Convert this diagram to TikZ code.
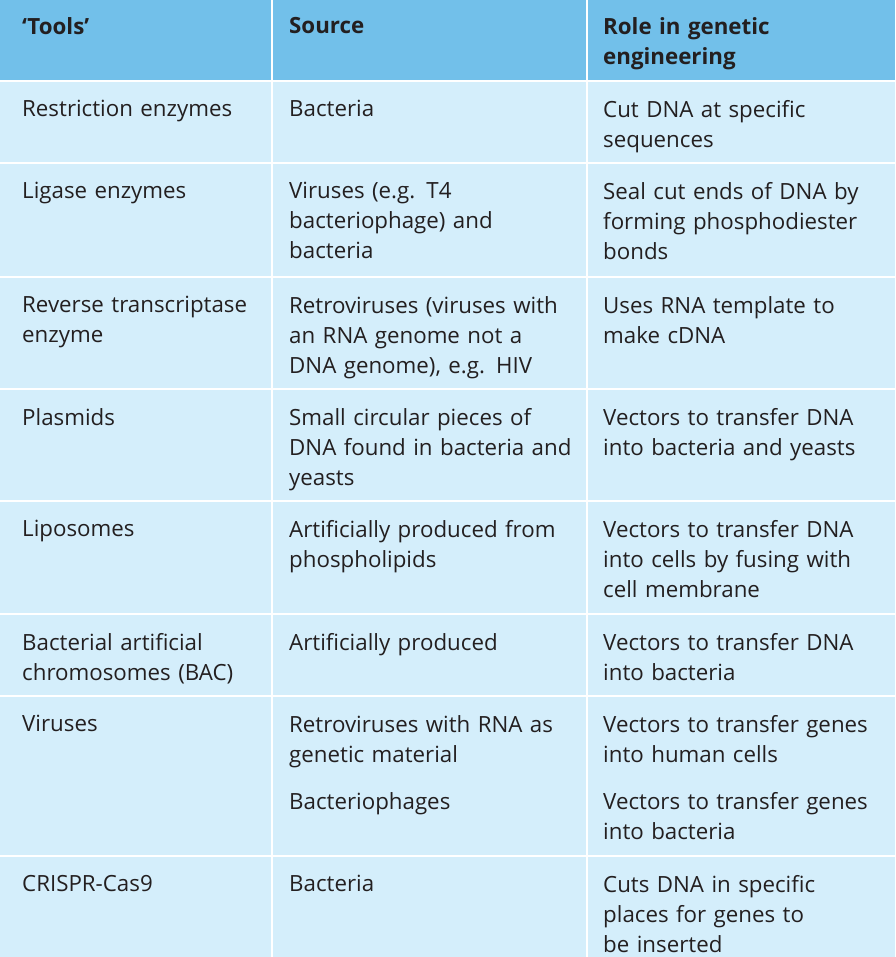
\documentclass[tikz,border=0pt]{standalone}
\usepackage{fontspec}
\setmainfont{Open Sans}
\definecolor{hdr}{HTML}{72C0EA}
\definecolor{bdy}{HTML}{D4EEFB}
\definecolor{txt}{HTML}{231F20}
\begin{document}
\begin{tikzpicture}[x=1pt,y=-1pt,
 cell/.style={anchor=north west,inner sep=0pt,align=left,text=txt,font=\fontsize{22.3}{30}\selectfont},
 hcell/.style={cell,font=\fontsize{22.3}{30}\selectfont\bfseries}]
\useasboundingbox (0,0) rectangle (895,957);
\fill[bdy] (0,0) rectangle (895,957);
\fill[hdr] (0,0) rectangle (895,81);
\foreach \y in {81,163,277,389,501,614,696,856} \draw[white,line width=1.5pt] (0,\y) -- (895,\y);
\foreach \x in {272,587} \draw[white,line width=1.5pt] (\x,0) -- (\x,957);
% header
\node[hcell,text width=250pt] (h1) at (22,17) {‘Tools’};
\node[hcell,text width=290pt] (h2) at (289,17) {Source};
\node[hcell,text width=290pt] (h3) at (603,17) {Role in genetic\\engineering};
% rows
\newcommand\rowc[5]{%
 \node[cell,text width=250pt] (a#1) at (22,#2+19) {#3};
 \node[cell,text width=300pt] (b#1) at (289,#2+19) {#4};
 \node[cell,text width=300pt] (c#1) at (603,#2+19) {#5};}
\rowc{1}{81}{Restriction enzymes}{Bacteria}{Cut DNA at specific\\sequences}
\rowc{2}{163}{Ligase enzymes}{Viruses (e.g. T4\\bacteriophage) and\\bacteria}{Seal cut ends of DNA by\\forming phosphodiester\\bonds}
\rowc{3}{277}{Reverse transcriptase\\enzyme}{Retroviruses (viruses with\\an RNA genome not a\\DNA genome), e.g. HIV}{Uses RNA template to\\make cDNA}
\rowc{4}{389}{Plasmids}{Small circular pieces of\\DNA found in bacteria and\\yeasts}{Vectors to transfer DNA\\into bacteria and yeasts}
\rowc{5}{501}{Liposomes}{Artificially produced from\\phospholipids}{Vectors to transfer DNA\\into cells by fusing with\\cell membrane}
\rowc{6}{614}{Bacterial artificial\\chromosomes (BAC)}{Artificially produced}{Vectors to transfer DNA\\into bacteria}
\rowc{7}{696}{Viruses}{Retroviruses with RNA as\\genetic material}{Vectors to transfer genes\\into human cells}
\node[cell,text width=300pt] (b7b) at (289,773+19) {Bacteriophages};
\node[cell,text width=300pt] (c7b) at (603,773+19) {Vectors to transfer genes\\into bacteria};
\rowc{8}{856}{CRISPR-Cas9}{Bacteria}{Cuts DNA in specific\\places for genes to\\be inserted}
\end{tikzpicture}
\end{document}
